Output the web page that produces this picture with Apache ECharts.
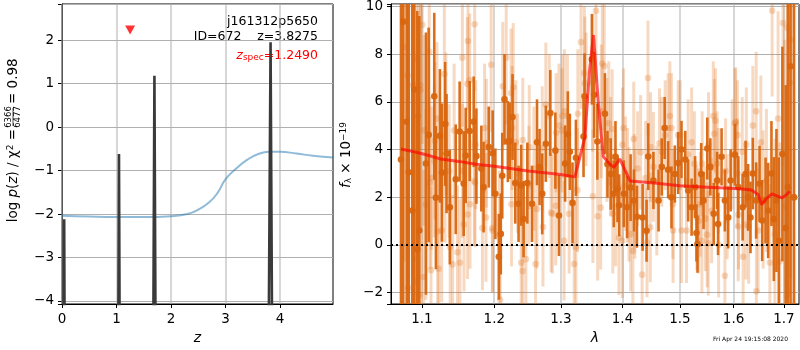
<!DOCTYPE html>
<html lang="en">
<head>
    <meta charset="UTF-8">
    <title>j161312p5650</title>
    <script type="text/javascript" src="https://cdn.jsdelivr.net/npm/echarts@6.0.0/dist/echarts.min.js"></script>
    <style>
        html, body { margin: 0; padding: 0; background: #fff; }
        #main { width: 800px; height: 350px; }
    </style>
</head>
<body>
<div id="main"></div>
<script>
    // ---- left panel: log p(z) ----
    const zTicks = [0, 1, 2, 3, 4];
    const pzTicks = [-4, -3, -2, -1, 0, 1, 2];
    const zMin = 0, zMax = 4.97, pzMin = -4.07, pzMax = 2.83;
    // smooth prior-like curve
    const priorZ = [0, 0.5, 1, 1.5, 2, 2.3, 2.5, 2.7, 2.85, 3.0, 3.2, 3.4, 3.6, 3.8, 4.0, 4.3, 4.6, 4.97];
    const priorLogP = [-2.04, -2.06, -2.07, -2.07, -2.05, -2.0, -1.9, -1.73, -1.52, -1.2, -0.95, -0.75, -0.62, -0.57, -0.57, -0.61, -0.66, -0.7];
    // narrow p(z) peaks
    const pzZ = [0.02, 0.04, 0.06, 1.02, 1.045, 1.07, 1.66, 1.695, 1.73, 3.77, 3.825, 3.87];
    const pzLogP = [-9, -2.12, -9, -9, -0.62, -9, -9, 1.18, -9, -9, 1.95, -9];
    const zSpec = 1.249;
    const zSpecMarkY = 2.23;

    // ---- right panel: spectrum ----
    const lamTicks = [1.1, 1.2, 1.3, 1.4, 1.5, 1.6, 1.7];
    const fluxTicks = [-2, 0, 2, 4, 6, 8, 10];
    const lamMin = 1.0598, lamMax = 1.731;
    const fMin = -2.48, fMax = 10.1;

    const darkLam = [1.0726, 1.0755, 1.080, 1.0827, 1.0873, 1.0899, 1.0938, 1.0965, 1.1053, 1.1089,
        1.1164, 1.1186, 1.124, 1.1267, 1.1311, 1.133, 1.1375, 1.1456, 1.151, 1.1566,
        1.1594, 1.165, 1.1706, 1.1744, 1.1814, 1.1846, 1.192, 1.1976, 1.2015, 1.2065,
        1.2094, 1.2115, 1.2148, 1.2197, 1.2225, 1.2266, 1.2306, 1.2355, 1.2394, 1.243,
        1.2486, 1.2557, 1.2632, 1.2671, 1.2712, 1.2767, 1.2836, 1.2914, 1.297, 1.3066,
        1.3109, 1.3141, 1.3183, 1.3237, 1.3359, 1.3375, 1.3494, 1.353, 1.3583, 1.3707,
        1.3749, 1.3803, 1.3854, 1.3882, 1.3916, 1.3945, 1.4022, 1.4077, 1.4137, 1.4194,
        1.4245, 1.4343, 1.4411, 1.444, 1.453, 1.462, 1.4677, 1.4728, 1.479, 1.4849,
        1.4909, 1.497, 1.5029, 1.5097, 1.515, 1.5213, 1.5277, 1.5302, 1.5321, 1.539,
        1.5433, 1.5503, 1.5559, 1.5623, 1.5686, 1.5705, 1.5771, 1.5834, 1.5897, 1.5944,
        1.6027, 1.6092, 1.6176, 1.6233, 1.6283, 1.6329, 1.6375, 1.6441, 1.6508, 1.656,
        1.6628, 1.668, 1.6746, 1.6794, 1.6847, 1.6895, 1.6968, 1.7036, 1.708, 1.7135, 1.7203];
    const darkFlux = [3.58, 9.36, 5.16, 3.04, 1.44, 6.51, -0.19, 0.6, 3.41, 4.61,
        6.23, 1.98, 4.57, 3.03, 5.07, 3.83, 1.58, 2.75, 4.75, 2.57,
        3.75, 4.77, 5.16, 3.72, 3.2, 2.42, 4.1, 3.84, 2.14, -0.5,
        0.46, 2.9, 6.1, 4.33, 4.36, 5.36, 2.59, 1.72, 2.5, 1.08,
        2.59, 1.72, 4.3, 3.26, 2.14, 4.24, 5.53, 3.95, 1.23, 3.41,
        4.64, 3.9, 1.76, 3.65, 4.54, 6.23, 7.78, 6.29, 4.33, 5.5,
        3.38, 2.97, 2.14, 3.69, 2.35, 1.66, 2.14, 1.58, 2.4, 1.86,
        1.18, 1.15, 0.59, 3.7, 2.7, 1.86, 3.27, 4.9, 3.15, 1.99,
        2.97, 3.43, 4.0, 3.58, 2.28, 1.58, 2.42, 0.5, 0.03, 2.97,
        1.86, 4.04, 3.27, 1.3, 2.7, 0.87, 3.69, 1.86, 1.15, 2.7,
        3.78, 2.42, 1.58, 2.97, 1.99, 1.15, 2.99, 1.86, 2.56, 1.02,
        1.86, 1.44, 2.99, 1.08, 1.86, 0.17, 3.81, 0.7, 2.42, 7.49, 1.99];
    const darkErr = [12, 12, 12, 12, 11, 11, 10, 9, 5.5, 4.5,
        3.5, 3.0, 2.8, 2.9, 2.6, 2.5, 2.4, 2.3, 2.1, 2.2,
        2.0, 2.1, 1.9, 2.0, 1.8, 1.9, 1.7, 1.8, 1.9, 1.8,
        1.7, 1.8, 1.9, 1.7, 1.6, 1.8, 1.7, 1.6, 1.7, 1.6,
        1.7, 1.6, 1.8, 1.6, 1.7, 1.6, 1.8, 1.6, 1.7, 1.6,
        1.8, 1.6, 1.7, 1.6, 1.7, 1.8, 1.9, 1.8, 1.6, 1.7,
        1.4, 1.5, 1.4, 1.5, 1.4, 1.3, 1.4, 1.3, 1.4, 1.3,
        1.3, 1.4, 1.3, 1.4, 1.2, 1.3, 1.2, 1.3, 1.2, 1.3,
        1.2, 1.3, 1.2, 1.2, 1.3, 1.2, 1.3, 1.2, 1.2, 1.3,
        1.2, 1.3, 1.2, 1.3, 1.2, 1.3, 1.2, 1.3, 1.3, 1.3,
        1.3, 1.3, 1.4, 1.4, 1.4, 1.5, 1.5, 1.6, 1.6, 1.7,
        1.8, 2.0, 2.2, 2.6, 3.0, 3.5, 4.5, 6, 8, 10, 12];

    const lightLam = [1.0768, 1.0812, 1.0818, 1.0882, 1.0912, 1.0925, 1.093, 1.0951, 1.0972, 1.0982,
        1.0978, 1.1004, 1.1022, 1.103, 1.1053, 1.1097, 1.1106, 1.112, 1.1165, 1.1174,
        1.12, 1.121, 1.1224, 1.1264, 1.13, 1.1309, 1.1322, 1.138, 1.1413, 1.1434,
        1.148, 1.1514, 1.1548, 1.157, 1.1617, 1.162, 1.1626, 1.165, 1.1655, 1.172,
        1.1725, 1.183, 1.1886, 1.1955, 1.1976, 1.2085, 1.2123, 1.2173, 1.2245, 1.226,
        1.2316, 1.2341, 1.2394, 1.2416, 1.2464, 1.251, 1.2585, 1.261, 1.2632, 1.2712,
        1.2723, 1.2767, 1.2868, 1.2919, 1.297, 1.3023, 1.305, 1.3103, 1.313, 1.321,
        1.3237, 1.3263, 1.3318, 1.3372, 1.34, 1.3505, 1.356, 1.3648, 1.3664, 1.3696,
        1.374, 1.377, 1.3799, 1.3838, 1.3884, 1.394, 1.3996, 1.4019, 1.4052, 1.4085,
        1.4137, 1.4176, 1.421, 1.4256, 1.4334, 1.4419, 1.4435, 1.4476, 1.453, 1.4589,
        1.4637, 1.4677, 1.4737, 1.479, 1.4849, 1.4879, 1.497, 1.5029, 1.512, 1.515,
        1.5213, 1.5264, 1.534, 1.5372, 1.5403, 1.5468, 1.552, 1.5583, 1.5615, 1.5635,
        1.5686, 1.571, 1.5834, 1.5878, 1.5974, 1.6027, 1.6071, 1.609, 1.6185, 1.6248,
        1.6293, 1.6375, 1.6441, 1.6445, 1.648, 1.6534, 1.658, 1.6645, 1.6714, 1.676,
        1.6815, 1.688, 1.6914, 1.698, 1.7016, 1.7068, 1.7116, 1.7138, 1.722,
        // second pass over the dense middle
        1.2276, 1.2418, 1.2515, 1.282, 1.2925, 1.3055, 1.3018, 1.2847, 1.2250, 1.2075,
        1.1972, 1.1880, 1.1860, 1.482, 1.5005, 1.5656, 1.6041, 1.6075, 1.5408, 1.5847,
        1.5525, 1.6168, 1.5499, 1.5715, 1.4875, 1.5308, 1.6095, 1.6238, 1.338, 1.3268,
        1.3510, 1.3588, 1.3637, 1.3826, 1.3999, 1.4190, 1.4308, 1.4480, 1.4394, 1.4200,
        1.4110, 1.1548, 1.1734, 1.1366, 1.1125, 1.1715];
    const lightFlux = [8.3, 7.1, -1.8, 6.7, -0.6, 7.8, -1.55, 5.4, -2.1, 6.5,
        6.7, 9.23, -1.35, 4.8, 1.69, 8.1, 2.6, -1.06, 3.52, 4.37,
        5.3, 0.56, -1.0, 0.6, 7.16, 3.0, 5.07, -0.1, -0.82, 4.8,
        -0.31, -0.75, 7.85, 0.85, 6.75, 1.27, 8.55, 6.9, 1.7, 9.25,
        2.6, 0.7, 4.26, 7.55, 0.6, -2.3, 6.65, 7.85, 6.37, 4.9,
        4.3, 3.0, -0.75, -1.1, -0.6, 2.5, 3.2, -0.8, 1.5, 4.05,
        0.75, 5.88, 1.3, 1.64, 5.0, 5.4, 0.17, 5.4, 1.3, -0.8,
        -0.1, 2.3, 8.5, 7.2, 6.1, 6.8, 9.82, 5.6, 7.6, 7.5,
        4.4, 5.1, 3.7, 1.3, 1.6, 0.3, 0.17, 4.9, 2.98, 2.5,
        0.45, -0.26, 1.72, 3.2, -1.25, 0.1, 7.0, 0.73, 3.27, 1.86,
        4.26, 3.9, 4.6, 4.9, 4.9, 0.6, 4.6, 0.6, 0.6, 3.8,
        4.3, 3.4, 1.0, 1.7, 0.17, 1.1, 0.07, 1.43, 5.4, 4.66,
        3.4, 2.7, -1.3, 1.6, 3.8, 5.1, 3.0, 0.77, -0.5, 4.2,
        0.77, 5.0, 5.6, -1.95, 0.6, 4.3, 1.9, 2.7, -0.75, 9.82,
        0.45, 5.3, -0.7, 9.3, 1.6, 9.1, 6.8, 8.6, 2.0,
        6.6, 4.4, 4.1, 5.4, 4.7, 5.6, 4.8, 1.35, 1.7, 0.42,
        0.7, 1.15, 4.9, 5.4, 4.6, 5.2, 5.15, 4.6, 3.4, 3.1,
        4.2, 3.9, 0.42, 0.0, 1.7, 1.14, 1.27, 0.85, 6.77, 5.5,
        2.04, 1.2, 1.56, 4.86, 4.2, 4.44, 3.88, 4.1, 2.8, 2.25,
        1.7, 3.1, 4.2, 3.1, 2.8, 2.68];
    const lightErr = [9, 9, 8, 8, 7, 8, 7, 7, 6, 6,
        6, 5, 4.5, 4, 4, 4, 3.6, 3.5, 3.2, 3.3,
        3.2, 3.0, 3.0, 3.0, 3.1, 2.9, 3.0, 2.8, 2.9, 2.8,
        2.8, 2.7, 2.9, 2.8, 2.8, 2.7, 2.9, 2.8, 2.7, 2.8,
        2.7, 2.6, 2.7, 2.8, 2.6, 2.6, 2.7, 2.8, 2.7, 2.6,
        2.6, 2.5, 2.6, 2.6, 2.6, 2.5, 2.6, 2.5, 2.5, 2.6,
        2.5, 2.6, 2.5, 2.5, 2.6, 2.6, 2.5, 2.6, 2.5, 2.6,
        2.6, 2.6, 2.8, 2.8, 2.8, 2.9, 3.0, 2.8, 2.8, 2.8,
        2.6, 2.6, 2.5, 2.5, 2.5, 2.4, 2.4, 2.5, 2.4, 2.4,
        2.4, 2.4, 2.3, 2.4, 2.4, 2.3, 2.4, 2.3, 2.3, 2.3,
        2.3, 2.3, 2.3, 2.3, 2.3, 2.2, 2.3, 2.2, 2.2, 2.3,
        2.3, 2.2, 2.2, 2.2, 2.2, 2.2, 2.2, 2.2, 2.3, 2.3,
        2.2, 2.2, 2.3, 2.2, 2.3, 2.3, 2.3, 2.3, 2.4, 2.4,
        2.4, 2.5, 2.5, 2.6, 2.6, 2.8, 2.9, 3.0, 3.3, 3.6,
        4.0, 4.5, 5, 6, 7, 8, 9, 10, 10,
        2.7, 2.6, 2.6, 2.6, 2.5, 2.6, 2.6, 2.5, 2.6, 2.7,
        2.7, 2.7, 2.7, 2.3, 2.3, 2.2, 2.3, 2.3, 2.2, 2.2,
        2.2, 2.3, 2.2, 2.2, 2.3, 2.2, 2.3, 2.3, 2.8, 2.7,
        2.8, 2.7, 2.6, 2.5, 2.4, 2.4, 2.4, 2.3, 2.4, 2.4,
        2.4, 2.8, 2.7, 2.8, 3.0, 2.7];

    // model spectrum
    const modelLam = [1.0726, 1.09, 1.103, 1.125, 1.15, 1.174, 1.2, 1.25, 1.3, 1.322,
        1.338, 1.3456, 1.352, 1.36, 1.368, 1.378, 1.3854, 1.3957, 1.4125, 1.45,
        1.5, 1.55, 1.612, 1.635, 1.648, 1.655, 1.665, 1.6755, 1.6955, 1.705, 1.712];
    const modelFlux = [4.02, 3.9, 3.8, 3.6, 3.5, 3.38, 3.3, 3.1, 2.95, 2.85,
        4.5, 7.33, 8.8, 5.9, 3.7, 3.41, 3.25, 3.6, 2.68, 2.6,
        2.48, 2.42, 2.35, 2.3, 2.11, 1.69, 1.95, 2.14, 1.97, 2.1, 2.25];

    const font = 'DejaVu Sans';
    const minus = v => String(v).replace('-', '\u2212');
    const lg = Math.log10;

    function errRender(color, opacity, lw, r) {
        return function (params, api) {
            const x = api.value(0), y = api.value(1), e = api.value(2);
            const lo = Math.max(y - e, fMin), hi = Math.min(y + e, fMax);
            const p1 = api.coord([x, lo]), p2 = api.coord([x, hi]);
            const children = [{
                type: 'line',
                shape: {x1: p1[0], y1: p1[1], x2: p2[0], y2: p2[1]},
                style: {stroke: color, lineWidth: lw, opacity: opacity}
            }];
            if (y >= fMin && y <= fMax) {
                const c = api.coord([x, y]);
                children.push({type: 'circle', shape: {cx: c[0], cy: c[1], r: r}, style: {fill: color, opacity: opacity}});
            }
            return {type: 'group', children: children};
        };
    }

    // vertical grid lines at the custom x tick values (custom series)
    function vGrid(idx, xs, y0, y1) {
        return {
            type: 'custom', xAxisIndex: idx, yAxisIndex: idx, z: 1, silent: true,
            data: xs.map(v => [v, y0, y1]),
            renderItem: function (params, api) {
                const a = api.coord([api.value(0), api.value(1)]);
                const b = api.coord([api.value(0), api.value(2)]);
                return {type: 'rect', style: {fill: '#b0b0b0'},
                    shape: {x: Math.round(a[0]) - 0.5, y: Math.min(a[1], b[1]), width: 1, height: Math.abs(a[1] - b[1])}};
            }
        };
    }

    const gridColor = '#b0b0b0';
    const xAxisCommon = {
        axisLine: {onZero: false, lineStyle: {color: '#000', width: 1}},
        splitLine: {show: false},
        nameTextStyle: {fontFamily: font, fontSize: 14, color: '#000', fontStyle: 'italic'}
    };
    // y axes: native split lines on the default nice ticks (integers / steps of 2)
    const yAxisCommon = {
        axisLine: {onZero: false, lineStyle: {color: '#000', width: 1}},
        splitLine: {show: true, lineStyle: {color: gridColor, width: 1}},
        axisTick: {show: true, inside: false, length: 4, lineStyle: {color: '#000'}}
    };
    const tick = vals => ({show: true, inside: false, length: 4, customValues: vals.slice(), lineStyle: {color: '#000'}});
    const label = (vals, fmt) => ({customValues: vals.slice(), color: '#000', fontFamily: font, fontSize: 13.5, margin: 8, formatter: fmt});

    const chart = echarts.init(document.getElementById('main'));
    const option = {
        animation: false,
        backgroundColor: '#fff',
        grid: [
            {left: 62, top: 4, width: 271, height: 300, show: true, borderColor: '#000', borderWidth: 1, outerBoundsMode: 'none'},
            {left: 391, top: 4, width: 408, height: 300, show: true, borderColor: '#000', borderWidth: 1, outerBoundsMode: 'none'}
        ],
        xAxis: [
            Object.assign({}, xAxisCommon, {
                gridIndex: 0, type: 'value', min: zMin, max: zMax,
                axisTick: tick(zTicks), axisLabel: label(zTicks, v => minus(v)),
                name: 'z', nameLocation: 'middle', nameGap: 27
            }),
            Object.assign({}, xAxisCommon, {
                gridIndex: 1, type: 'value', min: lg(lamMin), max: lg(lamMax),
                axisTick: tick(lamTicks.map(lg)),
                axisLabel: label(lamTicks.map(lg), v => Math.pow(10, v).toFixed(1)),
                name: 'λ', nameLocation: 'middle', nameGap: 27
            })
        ],
        yAxis: [
            Object.assign({}, yAxisCommon, {
                gridIndex: 0, type: 'value', min: pzMin, max: pzMax, splitNumber: 7,
                axisLabel: label(pzTicks, v => minus(v))
            }),
            Object.assign({}, yAxisCommon, {
                gridIndex: 1, type: 'value', min: fMin, max: fMax, splitNumber: 6,
                axisLabel: label(fluxTicks, v => minus(v))
            })
        ],
        graphic: [
            {
                type: 'group', x: 13, y: 154, rotation: Math.PI / 2,
                children: [
                    {type: 'text', x: 25, y: 0, style: {
                        text: '{n|log }{i|p}{n|(}{i|z}{n|) / χ}{s|2}{n| =}',
                        align: 'right', verticalAlign: 'middle',
                        rich: {
                            n: {fontFamily: font, fontSize: 13.5, fill: '#000'},
                            i: {fontFamily: font, fontSize: 13.5, fontStyle: 'italic', fill: '#000'},
                            s: {fontFamily: font, fontSize: 9, fill: '#000', verticalAlign: 'top'}
                        }
                    }},
                    {type: 'text', x: 37, y: -4.5, style: {text: '6366', font: '8.5px DejaVu Sans', fill: '#000', align: 'center', verticalAlign: 'middle'}},
                    {type: 'line', shape: {x1: 28, y1: 0, x2: 46, y2: 0}, style: {stroke: '#000', lineWidth: 0.7}},
                    {type: 'text', x: 37, y: 5, style: {text: '6477', font: '8.5px DejaVu Sans', fill: '#000', align: 'center', verticalAlign: 'middle'}},
                    {type: 'text', x: 50, y: 0, style: {text: '= 0.98', font: '13.5px DejaVu Sans', fill: '#000', align: 'left', verticalAlign: 'middle'}}
                ]
            },
            {
                type: 'text', x: 346, y: 155, rotation: Math.PI / 2,
                style: {
                    text: '{i|f}{sub|λ}{n| × 10}{sup|\u221219}',
                    align: 'center', verticalAlign: 'middle',
                    rich: {
                        n: {fontFamily: font, fontSize: 13.5, fill: '#000'},
                        i: {fontFamily: font, fontSize: 13.5, fontStyle: 'italic', fill: '#000'},
                        sub: {fontFamily: font, fontSize: 9, fill: '#000', verticalAlign: 'bottom'},
                        sup: {fontFamily: font, fontSize: 9, fill: '#000', verticalAlign: 'top'}
                    }
                }
            },
            {type: 'text', x: 318, y: 22, style: {text: 'j161312p5650', font: '12.5px DejaVu Sans', fill: '#000', align: 'right', verticalAlign: 'middle'}},
            {type: 'text', x: 318, y: 37, style: {text: 'ID=672    z=3.8275', font: '12.5px DejaVu Sans', fill: '#000', align: 'right', verticalAlign: 'middle'}},
            {
                type: 'text', x: 318, y: 56,
                style: {
                    text: '{i|z}{sub|spec}{n|=1.2490}',
                    align: 'right', verticalAlign: 'middle',
                    rich: {
                        n: {fontFamily: font, fontSize: 12.5, fill: '#ff0000'},
                        i: {fontFamily: font, fontSize: 12.5, fontStyle: 'italic', fill: '#ff0000'},
                        sub: {fontFamily: font, fontSize: 9, fill: '#ff0000', verticalAlign: 'bottom'}
                    }
                }
            },
            {type: 'text', x: 788, y: 339, style: {text: 'Fri Apr 24 19:15:08 2020', font: '6px DejaVu Sans', fill: '#000', align: 'right', verticalAlign: 'middle'}}
        ],
        series: [
            vGrid(0, zTicks, pzMin, pzMax),
            vGrid(1, lamTicks.map(lg), fMin, fMax),
            {
                type: 'line', xAxisIndex: 0, yAxisIndex: 0, smooth: true, showSymbol: false,
                data: priorZ.map((z, i) => [z, priorLogP[i]]),
                lineStyle: {color: '#1f77b4', opacity: 0.5, width: 2}, z: 2
            },
            {
                type: 'line', xAxisIndex: 0, yAxisIndex: 0, showSymbol: false,
                data: pzZ.map((z, i) => [z, pzLogP[i]]),
                lineStyle: {color: '#3a3a3a', width: 2.6}, z: 3
            },
            {
                type: 'scatter', xAxisIndex: 0, yAxisIndex: 0,
                data: [[zSpec, zSpecMarkY]], symbol: 'triangle', symbolRotate: 180, symbolSize: [10, 9],
                itemStyle: {color: '#ff0000'}, z: 4
            },
            {
                type: 'custom', xAxisIndex: 1, yAxisIndex: 1,
                data: lightLam.map((l, i) => [lg(l), lightFlux[i], lightErr[i]]),
                renderItem: errRender('#e0741c', 0.27, 3, 3.3), z: 2
            },
            {
                type: 'custom', xAxisIndex: 1, yAxisIndex: 1,
                data: darkLam.map((l, i) => [lg(l), darkFlux[i], darkErr[i]]),
                renderItem: errRender('#d9660f', 0.95, 2.6, 3.3), z: 3
            },
            {
                type: 'line', xAxisIndex: 1, yAxisIndex: 1, showSymbol: false,
                data: modelLam.map((l, i) => [lg(l), modelFlux[i]]),
                lineStyle: {color: '#ff0000', opacity: 0.65, width: 3}, z: 4,
                markLine: {
                    silent: true, symbol: 'none', label: {show: false},
                    lineStyle: {color: '#000', type: [2, 3], width: 2, opacity: 1},
                    data: [{yAxis: 0}]
                }
            }
        ]
    };
    chart.setOption(option);
</script>
</body>
</html>
